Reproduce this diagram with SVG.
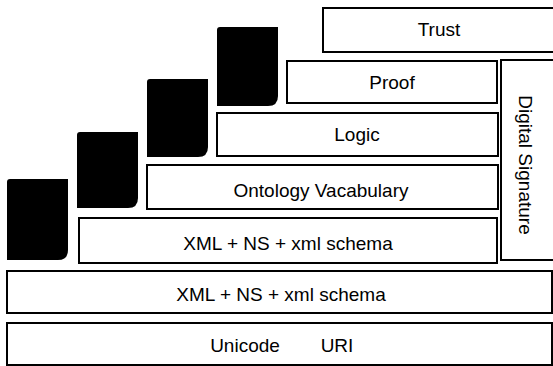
<svg xmlns="http://www.w3.org/2000/svg" width="553" height="366" viewBox="0 0 553 366">
<style>
.box{fill:#fff;stroke:#000;stroke-width:2}
.blk{fill:#000;stroke:none}
.t{font-family:"Liberation Sans",Arial,sans-serif;font-size:19px;fill:#000;text-anchor:middle}
</style>
<rect width="553" height="366" fill="#fff"/>
<g id="blocks">
<path class="blk" d="M10,179 H68 V250 Q68,260 58,260 H7 V182 Q7,179 10,179 Z"/>
<path class="blk" d="M80,132 H138 V198 Q138,208 128,208 H77 V135 Q77,132 80,132 Z"/>
<path class="blk" d="M150,79 H208 V147 Q208,157 198,157 H147 V82 Q147,79 150,79 Z"/>
<path class="blk" d="M220,27 H278 V96 Q278,106 268,106 H217 V30 Q217,27 220,27 Z"/>
</g>
<g id="trust"><rect class="box" x="323" y="8" width="240" height="44"/><text class="t" x="439" y="36">Trust</text></g>
<g id="proof"><rect class="box" x="287" y="61" width="210" height="42"/><text class="t" x="392" y="89">Proof</text></g>
<g id="logic"><rect class="box" x="217" y="113" width="281" height="43"/><text class="t" x="357" y="141">Logic</text></g>
<g id="ontology"><rect class="box" x="147" y="165" width="351" height="44"/><text class="t" x="321" y="197">Ontology Vacabulary</text></g>
<g id="xml-inner"><rect class="box" x="79" y="218" width="418" height="45"/><text class="t" x="288" y="250">XML + NS + xml schema</text></g>
<g id="digital-signature"><rect class="box" x="501" y="60" width="62" height="200"/><text class="t" transform="translate(519,165) rotate(90)" x="0" y="0">Digital Signature</text></g>
<g id="xml-outer"><rect class="box" x="7" y="271" width="545" height="42"/><text class="t" x="281" y="301">XML + NS + xml schema</text></g>
<g id="unicode"><rect class="box" x="7" y="323" width="545" height="42"/><text class="t" y="352"><tspan x="245">Unicode</tspan><tspan x="337">URI</tspan></text></g>
<g id="connectors"></g>
</svg>
